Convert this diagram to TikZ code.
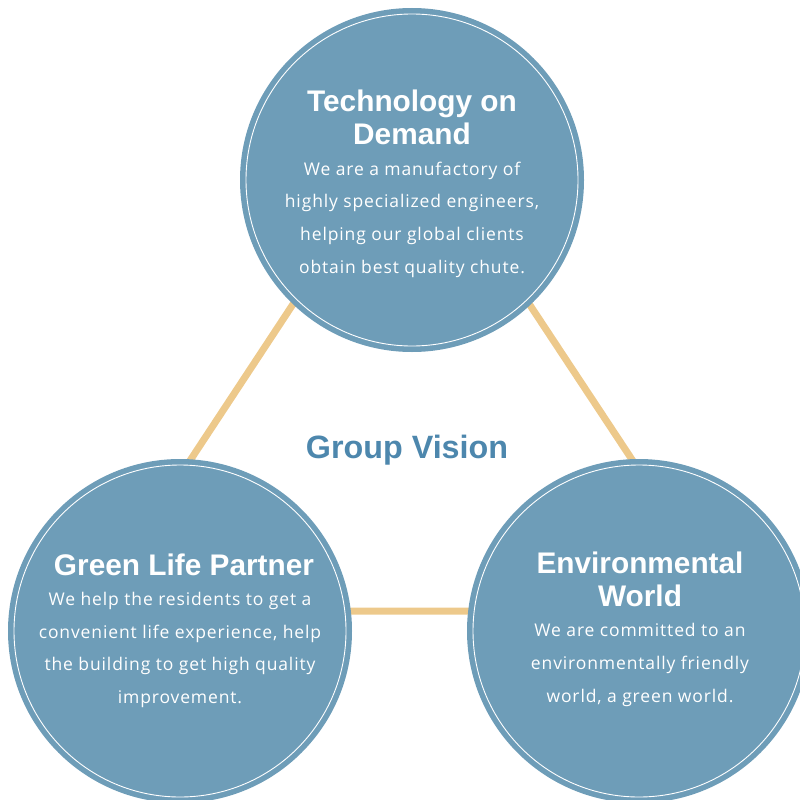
\documentclass[tikz,border=0pt]{standalone}
\usepackage{fontspec}
\setmainfont[LetterSpace=5]{Open Sans}
\newfontfamily\headfont{Liberation Sans}
\definecolor{bubblefill}{HTML}{6E9DB8}
\definecolor{linkcol}{HTML}{EDC98B}
\definecolor{visioncol}{HTML}{4D87AD}
\tikzset{
  bubble/.style={circle, fill=bubblefill, minimum size=344pt, inner sep=0pt},
  ring/.style={draw=white, line width=0.9pt},
  link/.style={draw=linkcol, line width=7pt},
  headtext/.style={text=white, align=center, font=\headfont\bfseries\fontsize{29.8}{33}\selectfont},
  bodytext/.style={text=white, align=center, font=\fontsize{17.5}{32.7}\selectfont},
}
\begin{document}
\begin{tikzpicture}[x=1pt,y=-1pt]
\useasboundingbox (0,0) rectangle (800,800);
\clip (0,0) rectangle (800,800);
% triangle corners
\coordinate (apex) at (411,125);
\coordinate (bl) at (91,611);
\coordinate (br) at (732,611);
\draw[link] (apex) -- (bl) -- (br) -- cycle;
% circles
\node[bubble] (tech) at (412,180) {};
\node[bubble] (green) at (180,631) {};
\node[bubble] (env) at (639,631) {};
\draw[ring] (tech.center) circle[radius=166];
\draw[ring] (green.center) circle[radius=166];
\draw[ring] (env.center) circle[radius=166];
% texts
\node[headtext] (techhead) at (412,117) {Technology on\\Demand};
\node[bodytext] (techbody) at (412,219.5) {We are a manufactory of\\highly specialized engineers,\\helping our global clients\\obtain best quality chute.};
\node[headtext] (greenhead) at (184,565) {Green Life Partner};
\node[bodytext] (greenbody) at (180,650) {We help the residents to get a\\convenient life experience, help\\the building to get high quality\\improvement.};
\node[headtext] (envhead) at (640,579) {Environmental\\World};
\node[bodytext] (envbody) at (640,665) {We are committed to an\\environmentally friendly\\world, a green world.};
\node[text=visioncol, font=\headfont\bfseries\fontsize{32.3}{36}\selectfont] (vision) at (407,450) {Group Vision};
\end{tikzpicture}
\end{document}
